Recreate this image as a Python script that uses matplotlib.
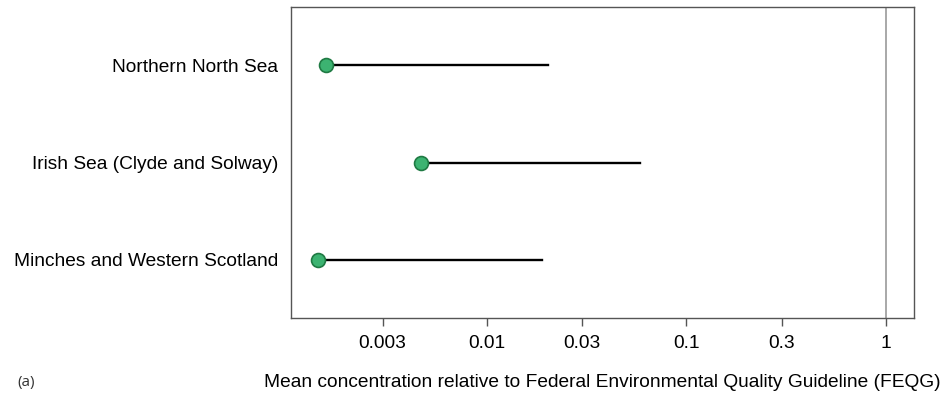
#Dot-and-line chart of mean concentration relative to FEQG
import matplotlib.pyplot as plt

plt.rcParams['font.family'] = ['Liberation Sans', 'DejaVu Sans']

#data
regions = ['Northern North Sea', 'Irish Sea (Clyde and Solway)', 'Minches and Western Scotland']
mean_vals = [0.00157, 0.00466, 0.00142]
upper_vals = [0.0202, 0.0584, 0.0188]
tick_vals = [0.003, 0.01, 0.03, 0.1, 0.3, 1]
tick_labels = ['0.003', '0.01', '0.03', '0.1', '0.3', '1']

fig = plt.figure(figsize=(9.44, 3.98), dpi=100)
ax = fig.add_axes([0.308, 0.201, 0.66, 0.781])

ypos = [1, 2, 3]
ax.axvline(1, color='#999999', lw=1.2, zorder=1)
for y, m, u in zip(ypos, mean_vals, upper_vals):
    ax.plot([m, u], [y, y], color='black', lw=1.7, zorder=2)
ax.plot(mean_vals, ypos, 'o', ms=10, mfc='#3cb371', mec='#1f7a43', mew=1.2, zorder=3)

ax.set_xscale('log')
ax.set_xlim(0.00104, 1.38)
ax.set_ylim(3.6, 0.4)
ax.set_xticks(tick_vals)
ax.set_xticklabels(tick_labels)
ax.minorticks_off()
ax.set_yticks(ypos)
ax.set_yticklabels(regions)
ax.tick_params(axis='y', length=0, pad=9, labelsize=13.8)
ax.tick_params(axis='x', length=6, width=1, color='#555555', pad=6, labelsize=13.8)
for s in ax.spines.values():
    s.set_color('#555555')
    s.set_linewidth(1)

ax.set_xlabel('Mean concentration relative to Federal Environmental Quality Guideline (FEQG)',
              fontsize=13.8, labelpad=16)
fig.text(0.018, 0.03, '(a)', fontsize=11, family=['Open Sans', 'DejaVu Sans'], color='#333333')

fig.savefig('out.png', dpi=100)
